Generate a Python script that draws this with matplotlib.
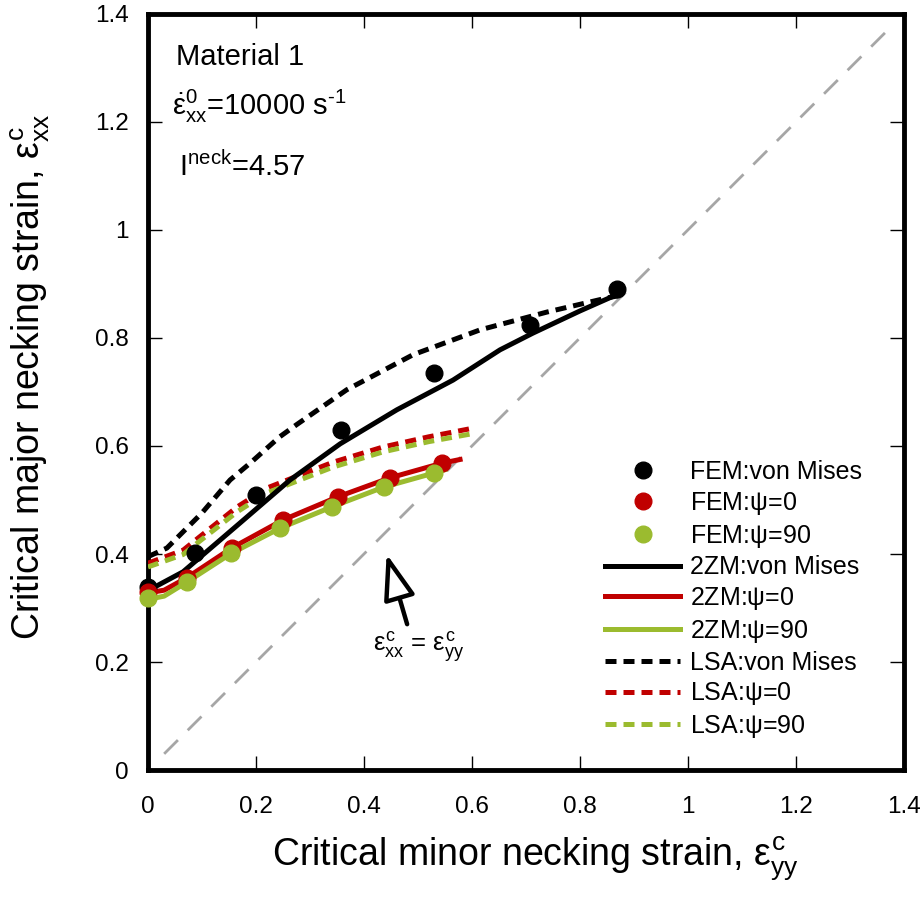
import matplotlib
matplotlib.use("Agg")
import matplotlib.pyplot as plt
from matplotlib.ticker import FuncFormatter

plt.rcParams['font.family'] = ['Liberation Sans', 'DejaVu Sans']
plt.rcParams['mathtext.fontset'] = 'custom'
plt.rcParams['mathtext.rm'] = 'Liberation Sans'
plt.rcParams['mathtext.it'] = 'Liberation Sans'
plt.rcParams['mathtext.bf'] = 'Liberation Sans:bold'

RED = '#c00000'
GREEN = '#9bbb2f'

# FEM points
fem_vm_x = [0.0, 0.087, 0.20, 0.357, 0.530, 0.707, 0.869]
fem_vm_y = [0.339, 0.402, 0.509, 0.630, 0.735, 0.824, 0.891]
fem_0_x = [0.0, 0.072, 0.155, 0.250, 0.352, 0.448, 0.544]
fem_0_y = [0.330, 0.356, 0.411, 0.463, 0.506, 0.541, 0.568]
fem_90_x = [0.0, 0.072, 0.154, 0.245, 0.340, 0.437, 0.530]
fem_90_y = [0.318, 0.348, 0.401, 0.448, 0.487, 0.524, 0.550]

# 2ZM curves
zm_vm_x = [0.0, 0.009, 0.065, 0.17, 0.263, 0.356, 0.461, 0.565, 0.652, 0.713, 0.80, 0.861]
zm_vm_y = [0.335, 0.337, 0.367, 0.457, 0.537, 0.604, 0.667, 0.722, 0.778, 0.809, 0.850, 0.877]
zm_0_x = [0.0, 0.03, 0.072, 0.155, 0.250, 0.352, 0.448, 0.544, 0.578]
zm_0_y = [0.328, 0.333, 0.356, 0.411, 0.463, 0.506, 0.541, 0.568, 0.575]
zm_90_x = [0.0, 0.03, 0.072, 0.154, 0.245, 0.340, 0.437, 0.530, 0.550]
zm_90_y = [0.316, 0.322, 0.348, 0.401, 0.448, 0.487, 0.524, 0.550, 0.556]

# LSA curves
lsa_vm_x = [0.0, 0.035, 0.065, 0.10, 0.152, 0.189, 0.244, 0.276, 0.368, 0.491, 0.615, 0.739, 0.85, 0.87]
lsa_vm_y = [0.395, 0.411, 0.441, 0.476, 0.537, 0.568, 0.617, 0.640, 0.704, 0.769, 0.815, 0.848, 0.874, 0.878]
lsa_0_x = [0.0, 0.065, 0.096, 0.165, 0.22, 0.281, 0.343, 0.435, 0.52, 0.602]
lsa_0_y = [0.383, 0.407, 0.432, 0.487, 0.522, 0.546, 0.570, 0.598, 0.617, 0.633]
lsa_90_x = [0.0, 0.065, 0.096, 0.165, 0.22, 0.281, 0.343, 0.435, 0.52, 0.602]
lsa_90_y = [0.376, 0.399, 0.424, 0.478, 0.513, 0.537, 0.561, 0.589, 0.608, 0.623]

ticks = [0, 0.2, 0.4, 0.6, 0.8, 1.0, 1.2, 1.4]

fig = plt.figure(figsize=(9.23, 8.98), dpi=100)
ax = fig.add_axes([0.1603, 0.1425, 0.819, 0.842])

ax.plot([0.03, 1.38], [0.03, 1.38], color='#a6a6a6', lw=2, dashes=(7, 5), zorder=1)

LW = 3.6
DASH = (2.2, 1.4)
ax.plot(lsa_vm_x, lsa_vm_y, color='black', lw=LW, dashes=DASH, label='LSA:von Mises', zorder=3)
ax.plot(lsa_0_x, lsa_0_y, color=RED, lw=LW, dashes=DASH, label='LSA:$\\psi$=0', zorder=3)
ax.plot(lsa_90_x, lsa_90_y, color=GREEN, lw=LW, dashes=DASH, label='LSA:$\\psi$=90', zorder=3)

ax.plot(zm_vm_x, zm_vm_y, color='black', lw=LW, label='2ZM:von Mises', zorder=4)
ax.plot(zm_0_x, zm_0_y, color=RED, lw=LW, label='2ZM:$\\psi$=0', zorder=4)
ax.plot(zm_90_x, zm_90_y, color=GREEN, lw=LW, label='2ZM:$\\psi$=90', zorder=4)

ax.plot(fem_vm_x, fem_vm_y, 'o', color='black', ms=12, label='FEM:von Mises', zorder=5, clip_on=False)
ax.plot(fem_0_x, fem_0_y, 'o', color=RED, ms=12, label='FEM:$\\psi$=0', zorder=5, clip_on=False)
ax.plot(fem_90_x, fem_90_y, 'o', color=GREEN, ms=12, label='FEM:$\\psi$=90', zorder=5, clip_on=False)

ax.set_xlim(0, 1.4)
ax.set_ylim(0, 1.4)
ax.set_xticks(ticks)
ax.set_yticks(ticks)
fmt = FuncFormatter(lambda v, p: '%g' % round(v, 2))
ax.xaxis.set_major_formatter(fmt)
ax.yaxis.set_major_formatter(fmt)
ax.tick_params(direction='in', length=10, width=1, labelsize=17.5,
               top=True, right=True)
ax.tick_params(axis='x', pad=19)
ax.tick_params(axis='y', pad=14)
for s in ax.spines.values():
    s.set_linewidth(3.5)

ax.set_xlabel(r'Critical minor necking strain, $\varepsilon^{c}_{yy}$', fontsize=27)
ax.set_ylabel(r'Critical major necking strain, $\varepsilon^{c}_{xx}$', fontsize=27)
ax.xaxis.set_label_coords(0.512, -0.086)
ax.yaxis.set_label_coords(-0.127, 0.52)

ax.text(0.052, 1.32, 'Material 1', fontsize=21, va='center')
ax.text(0.045, 1.228, '$\\dot{\\varepsilon}^{0}_{xx}$=10000 s$^{\u2010 1}$', fontsize=21, va='center')
ax.text(0.058, 1.117, r'I$^{\mathrm{neck}}$=4.57', fontsize=21, va='center')

ax.annotate('', xy=(0.442, 0.40), xytext=(0.48, 0.27),
            arrowprops=dict(arrowstyle='-|>,head_length=0.8,head_width=0.28',
                            fc='white', ec='black', lw=3.2,
                            mutation_scale=35, shrinkA=0, shrinkB=0), zorder=6)
ax.text(0.417, 0.228, r'$\varepsilon^{c}_{xx}$ = $\varepsilon^{c}_{yy}$', fontsize=18.5, va='center')

h, l = ax.get_legend_handles_labels()
order = [6, 7, 8, 3, 4, 5, 0, 1, 2]
leg = ax.legend([h[i] for i in order], [l[i] for i in order], loc='upper left',
                bbox_to_anchor=(0.605, 0.41), frameon=False, fontsize=18,
                handlelength=3.0, handletextpad=0.4, labelspacing=0.23,
                borderpad=0, borderaxespad=0)

fig.savefig('out.png', dpi=100)
